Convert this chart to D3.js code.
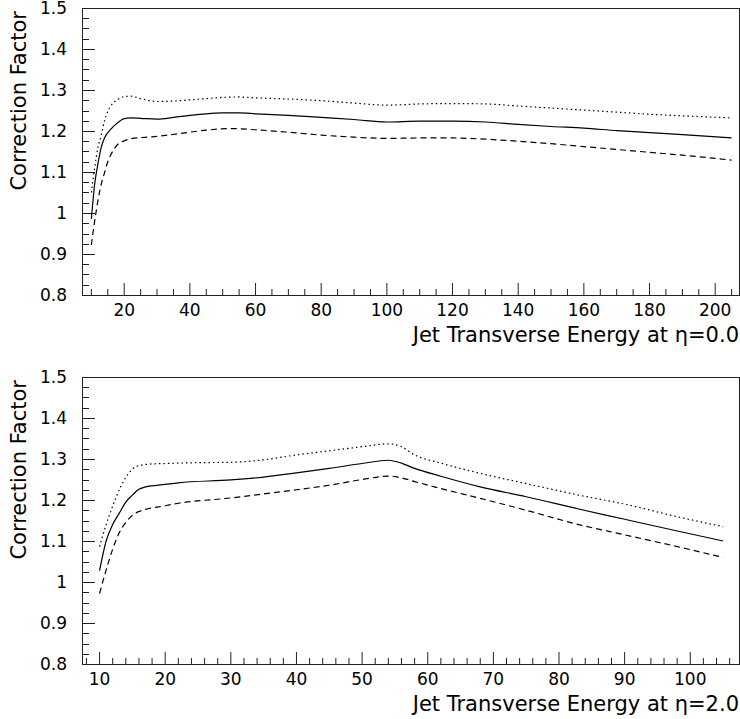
<!DOCTYPE html>
<html>
<head>
<meta charset="utf-8">
<script src="https://cdn.jsdelivr.net/npm/d3@7"></script>
<style>
  body { margin: 0; background: #fff; }
  svg { display: block; }
  text { font-family: "DejaVu Sans", "Liberation Sans", sans-serif; fill: #000; }
</style>
</head>
<body>
<svg id="chart" width="740" height="719"></svg>
<script>
// ---- data ----
// eta = 0.0 panel: [Et, factor]
var centralSolid = [[10,0.985],[11,1.07],[12,1.12],[13,1.16],[14,1.183],[16,1.205],[18,1.22],[20,1.23],[22,1.232],
  [25,1.231],[30,1.229],[35,1.233],[40,1.238],[45,1.242],[50,1.244],[55,1.244],[60,1.242],[70,1.238],[80,1.233],
  [90,1.228],[100,1.222],[110,1.224],[120,1.224],[130,1.222],[140,1.216],[150,1.211],[160,1.207],[170,1.201],
  [180,1.196],[190,1.191],[205,1.183]];
var centralDotted = [[10,1.05],[11,1.11],[12,1.16],[13,1.19],[14,1.225],[15,1.248],[16,1.262],[18,1.277],[20,1.284],
  [22,1.285],[25,1.279],[30,1.272],[35,1.273],[40,1.276],[45,1.279],[50,1.282],[55,1.283],[60,1.281],[70,1.278],
  [80,1.274],[90,1.268],[100,1.263],[110,1.266],[120,1.267],[130,1.266],[140,1.261],[150,1.256],[160,1.251],
  [170,1.246],[180,1.241],[190,1.237],[205,1.232]];
var centralDashed = [[10,0.922],[11,0.98],[12,1.03],[13,1.07],[14,1.098],[15,1.125],[16,1.143],[17,1.157],[18,1.167],
  [20,1.176],[22,1.181],[27,1.185],[30,1.187],[37,1.194],[45,1.202],[52,1.206],[60,1.203],[70,1.197],[80,1.19],
  [90,1.185],[100,1.182],[110,1.183],[120,1.183],[130,1.18],[140,1.175],[150,1.169],[160,1.162],[170,1.155],
  [180,1.148],[190,1.141],[205,1.129]];

// eta = 2.0 panel
var forwardSolid = [[10,1.028],[11,1.10],[12,1.14],[13,1.168],[14,1.195],[15,1.212],[16,1.226],[17,1.232],[20,1.238],
  [22,1.242],[30,1.249],[35,1.256],[40,1.266],[45,1.277],[50,1.289],[54,1.297],[56,1.29],[58,1.277],[62,1.258],
  [68,1.232],[75,1.208],[83,1.178],[90,1.153],[97,1.128],[105,1.10]];
var forwardDotted = [[10,1.086],[11,1.14],[12,1.185],[13,1.225],[14,1.255],[15,1.275],[16,1.284],[18,1.288],[20,1.289],
  [25,1.291],[30,1.292],[35,1.298],[40,1.31],[45,1.32],[50,1.33],[54,1.337],[56,1.33],[58,1.31],[62,1.29],
  [68,1.265],[75,1.24],[83,1.212],[90,1.19],[97,1.163],[105,1.135]];
var forwardDashed = [[10,0.972],[11,1.029],[12,1.08],[13,1.12],[14,1.145],[15,1.163],[16,1.172],[17,1.177],[20,1.186],
  [22,1.192],[30,1.205],[35,1.215],[40,1.225],[45,1.236],[50,1.25],[54,1.258],[56,1.254],[58,1.245],[62,1.228],
  [68,1.204],[75,1.175],[83,1.14],[90,1.115],[97,1.09],[105,1.06]];

var yMajorTicks = [0.8, 0.9, 1.0, 1.1, 1.2, 1.3, 1.4, 1.5];
var topMajorTicks = [20, 40, 60, 80, 100, 120, 140, 160, 180, 200];
var bottomMajorTicks = [10, 20, 30, 40, 50, 60, 70, 80, 90, 100];
var yTitle = "Correction Factor";

var svg = d3.select("#chart");

/**
 * draws one framed panel with its three curves
 */
var drawPanel = function (cfg) {
	var x = d3.scaleLinear().domain(cfg.xDomain).range([82.5, 739.5]);
	var y = d3.scaleLinear().domain([0.8, 1.5]).range([cfg.bottom, cfg.top]);
	var g = svg.append("g");

	// minor ticks
	var xMinor = d3.range(Math.ceil(cfg.xDomain[0] / cfg.xMinorStep) * cfg.xMinorStep, cfg.xDomain[1], cfg.xMinorStep);
	g.selectAll(".xminor").data(xMinor).enter().append("line")
		.attr("x1", d => x(d)).attr("x2", d => x(d))
		.attr("y1", cfg.bottom).attr("y2", d => cfg.xMajor.indexOf(d) >= 0 ? cfg.bottom - 12 : cfg.bottom - 6)
		.attr("stroke", "#222").attr("stroke-width", 1);

	var yMinor = d3.range(0, 29).map(i => 0.8 + i * 0.025);
	g.selectAll(".yminor").data(yMinor).enter().append("line")
		.attr("x1", x.range()[0]).attr("x2", (d, i) => i % 4 == 0 ? x.range()[0] + 12.5 : x.range()[0] + 6.5)
		.attr("y1", d => Math.round(y(d)) + 0.5).attr("y2", d => Math.round(y(d)) + 0.5)
		.attr("stroke", "#222").attr("stroke-width", 1);

	// frame
	g.append("rect")
		.attr("x", x.range()[0]).attr("y", cfg.top + 0.5)
		.attr("width", x.range()[1] - x.range()[0]).attr("height", cfg.bottom - cfg.top)
		.attr("fill", "none").attr("stroke", "#222").attr("stroke-width", 1);

	// tick labels
	g.selectAll(".xlab").data(cfg.xMajor).enter().append("text")
		.attr("x", d => x(d)).attr("y", cfg.bottom + 21)
		.attr("text-anchor", "middle").style("font-size", "17px")
		.text(d => d);
	g.selectAll(".ylab").data(yMajorTicks).enter().append("text")
		.attr("x", 67).attr("y", d => y(d) + 6)
		.attr("text-anchor", "end").style("font-size", "17px")
		.text(d => d == 1 ? "1" : d3.format(".1f")(d));

	// titles
	g.append("text")
		.attr("x", 739).attr("y", cfg.bottom + 47)
		.attr("text-anchor", "end").style("font-size", "21px")
		.text("Jet Transverse Energy at " + cfg.eta);
	g.append("text")
		.attr("transform", "translate(26," + (cfg.top + 3) + ") rotate(-90)")
		.attr("text-anchor", "end").style("font-size", "21px")
		.text(yTitle);

	var line = d3.line()
		.x(d => x(d[0])).y(d => y(d[1]))
		.curve(d3.curveMonotoneX);

	var series = [
		{ data: cfg.solid, dash: null },
		{ data: cfg.dotted, dash: "1.5,3" },
		{ data: cfg.dashed, dash: "6,4" }
	];
	g.selectAll(".curve").data(series).enter().append("path")
		.attr("d", d => line(d.data))
		.attr("fill", "none")
		.attr("stroke", "#000")
		.attr("stroke-width", 1.2)
		.attr("stroke-dasharray", d => d.dash);
};

drawPanel({
	top: 8, bottom: 295, xDomain: [7.3, 207.4], xMinorStep: 5, xMajor: topMajorTicks,
	eta: "\u03b7=0.0", solid: centralSolid, dotted: centralDotted, dashed: centralDashed
});
drawPanel({
	top: 377, bottom: 664, xDomain: [7.4, 107.5], xMinorStep: 2, xMajor: bottomMajorTicks,
	eta: "\u03b7=2.0", solid: forwardSolid, dotted: forwardDotted, dashed: forwardDashed
});
</script>
</body>
</html>
